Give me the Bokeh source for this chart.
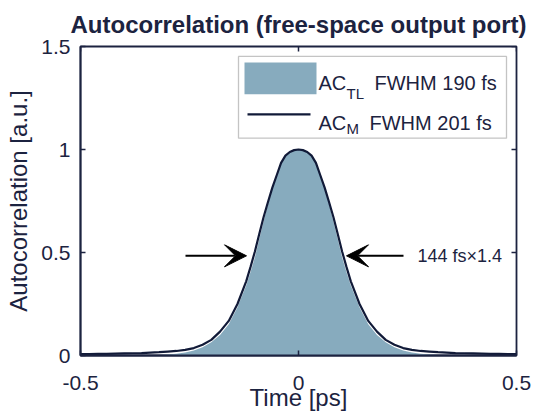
from bokeh.plotting import figure
from bokeh.models import (Range1d, FixedTicker, BoxAnnotation, Label, Arrow, VeeHead)
from bokeh.embed import file_html
from bokeh.resources import INLINE

# ---------------- data ----------------
time_ps = [-0.50, -0.48, -0.46, -0.44, -0.42, -0.40, -0.38, -0.36, -0.34, -0.32,
           -0.30, -0.28, -0.26, -0.24, -0.22, -0.20, -0.18, -0.16, -0.14,
           -0.12, -0.11, -0.10, -0.09, -0.08, -0.07, -0.06, -0.05, -0.04, -0.03,
           -0.02, -0.01, 0.00, 0.01, 0.02, 0.03, 0.04, 0.05, 0.06, 0.07,
           0.08, 0.09, 0.10, 0.11, 0.12,
           0.14, 0.16, 0.18, 0.20, 0.22, 0.24, 0.26, 0.28, 0.30, 0.32,
           0.34, 0.36, 0.38, 0.40, 0.42, 0.44, 0.46, 0.48, 0.50]

ac_tl = [0.001, 0.001, 0.001, 0.001, 0.001, 0.001, 0.001, 0.001, 0.002, 0.003,
         0.005, 0.008, 0.014, 0.024, 0.040, 0.064, 0.100, 0.152, 0.234,
         0.340, 0.405, 0.477, 0.565, 0.650, 0.735, 0.810, 0.875, 0.935, 0.972,
         0.990, 0.998, 1.000, 0.998, 0.990, 0.972, 0.935, 0.875, 0.810, 0.735,
         0.650, 0.565, 0.477, 0.405, 0.340,
         0.234, 0.152, 0.100, 0.064, 0.040, 0.024, 0.014, 0.008, 0.005, 0.003,
         0.002, 0.001, 0.001, 0.001, 0.001, 0.001, 0.001, 0.001, 0.001]

ac_m = [0.007, 0.007, 0.008, 0.008, 0.009, 0.010, 0.011, 0.012, 0.014, 0.016,
        0.019, 0.022, 0.027, 0.036, 0.052, 0.076, 0.116, 0.168, 0.250,
        0.360, 0.430, 0.505, 0.590, 0.672, 0.745, 0.815, 0.875, 0.935, 0.970,
        0.988, 0.997, 1.000, 0.997, 0.988, 0.970, 0.935, 0.875, 0.815, 0.745,
        0.672, 0.590, 0.505, 0.430, 0.360,
        0.250, 0.168, 0.116, 0.076, 0.052, 0.036, 0.027, 0.022, 0.019, 0.016,
        0.014, 0.012, 0.011, 0.010, 0.009, 0.008, 0.008, 0.007, 0.007]

x_ticks = [-0.5, 0.0, 0.5]
x_tick_labels = ["-0.5", "0", "0.5"]
y_ticks = [0.0, 0.5, 1.0, 1.5]
y_tick_labels = ["0", "0.5", "1", "1.5"]

title_text = "Autocorrelation (free-space output port)"
x_label = "Time [ps]"
y_label = "Autocorrelation [a.u.]"
legend_main = ["AC", "AC"]
legend_sub = ["TL", "M"]
legend_rest = ["FWHM 190 fs", "FWHM 201 fs"]
arrow_note = "144 fs\u00d71.4"

# ---------------- style ----------------
FONT = "Liberation Sans"
NAVY = "#1c2340"
LINE = "#111a38"
FILL = "#87abbe"

X0, X1, Y0, Y1 = -0.5, 0.5, 0.0, 1.5
FL, FR, FT, FB = 80, 516, 45, 355          # frame edges in page pixels
SX = (FR - FL) / (X1 - X0)
SY = (FB - FT) / (Y1 - Y0)

def dx(px):
    return X0 + (px - FL) / SX

def dy(py):
    return Y0 + (FB - py) / SY

p = figure(width=544, height=419, x_range=Range1d(X0, X1), y_range=Range1d(Y0, Y1),
           output_backend="svg", toolbar_location=None,
           min_border_left=FL, min_border_right=544 - FR,
           min_border_top=0, min_border_bottom=419 - FB)

p.title.text = title_text
p.title.text_font = FONT
p.title.text_font_style = "bold"
p.title.text_font_size = "24px"
p.title.text_color = NAVY
p.title.align = "center"
p.title.vertical_align = "bottom"
p.title.standoff = 17

p.xgrid.visible = False
p.ygrid.visible = False
p.background_fill_color = "white"
p.border_fill_color = "white"
p.outline_line_color = NAVY
p.outline_line_width = 1.8

def style_axis(ax, ticks, labels):
    ax.ticker = FixedTicker(ticks=ticks)
    ax.major_label_overrides = {t: l for t, l in zip(ticks, labels)}
    ax.major_tick_in = 5
    ax.major_tick_out = 0
    ax.minor_tick_line_color = None
    ax.major_tick_line_color = NAVY
    ax.major_tick_line_width = 1.5
    ax.axis_line_color = NAVY
    ax.axis_line_width = 1.8
    ax.major_label_text_font = FONT
    ax.major_label_text_color = NAVY
    ax.major_label_text_font_size = "21px"
    ax.axis_label_text_font = FONT
    ax.axis_label_text_font_style = "normal"
    ax.axis_label_text_font_size = "24px"
    ax.axis_label_text_color = NAVY

style_axis(p.xaxis[0], x_ticks, x_tick_labels)
style_axis(p.yaxis[0], y_ticks, y_tick_labels)
p.xaxis[0].axis_label = x_label
p.yaxis[0].axis_label = y_label
p.xaxis[0].major_label_standoff = 20
p.yaxis[0].major_label_standoff = 10
p.xaxis[0].axis_label_standoff = -9
p.yaxis[0].axis_label_standoff = 6

# inward ticks on top and right edges of the box
TICK = 5
for t in x_ticks:
    p.add_layout(Arrow(end=None, x_start=t, y_start=Y1, x_end=t, y_end=Y1 - TICK / SY,
                       line_color=NAVY, line_width=1.5))
for t in y_ticks:
    p.add_layout(Arrow(end=None, x_start=X1, y_start=t, x_end=X1 - TICK / SX, y_end=t,
                       line_color=NAVY, line_width=1.5))

# ---------------- data marks ----------------
p.varea(x=time_ps, y1=0, y2=ac_tl, fill_color=FILL, fill_alpha=1.0)
p.line(x=time_ps, y=ac_m, line_color=LINE, line_width=2.2)

# ---------------- arrows + note ----------------
head = dict(size=22, fill_color="black", line_color="black")
p.add_layout(Arrow(end=VeeHead(**head), x_start=dx(185), y_start=dy(255),
                   x_end=dx(246), y_end=dy(255), line_color="black", line_width=2))
p.add_layout(Arrow(end=VeeHead(**head), x_start=dx(403), y_start=dy(255),
                   x_end=dx(346), y_end=dy(255), line_color="black", line_width=2))
p.add_layout(Label(x=dx(417), y=dy(255), text=arrow_note, text_font=FONT,
                   text_font_size="18px", text_color=NAVY, text_baseline="middle",
                   text_align="left"))

# ---------------- legend (manual, for subscripts) ----------------
p.add_layout(BoxAnnotation(left=dx(238), right=dx(506), top=dy(55), bottom=dy(137),
                           fill_color="white", fill_alpha=1.0,
                           line_color="#3c3c3c", line_width=1.3, level="annotation"))
p.add_layout(BoxAnnotation(left=dx(244), right=dx(316), top=dy(61), bottom=dy(93),
                           fill_color=FILL, fill_alpha=1.0, line_color=None,
                           level="annotation"))
p.add_layout(Arrow(end=None, x_start=dx(247), y_start=dy(113), x_end=dx(310), y_end=dy(113),
                   line_color=LINE, line_width=2.2))

rows_base = [82, 122]
sub_base = [92, 127]
rest_x = [374, 369]
for i in range(2):
    p.add_layout(Label(x=dx(318), y=dy(rows_base[i]), text=legend_main[i], text_font=FONT,
                       text_font_size="20px", text_color=NAVY, text_baseline="alphabetic"))
    p.add_layout(Label(x=dx(346), y=dy(sub_base[i]), text=legend_sub[i], text_font=FONT,
                       text_font_size="15px", text_color=NAVY, text_baseline="alphabetic"))
    p.add_layout(Label(x=dx(rest_x[i]), y=dy(rows_base[i]), text=legend_rest[i], text_font=FONT,
                       text_font_size="20px", text_color=NAVY, text_baseline="alphabetic"))

open("out.html", "w").write(file_html(p, INLINE))
